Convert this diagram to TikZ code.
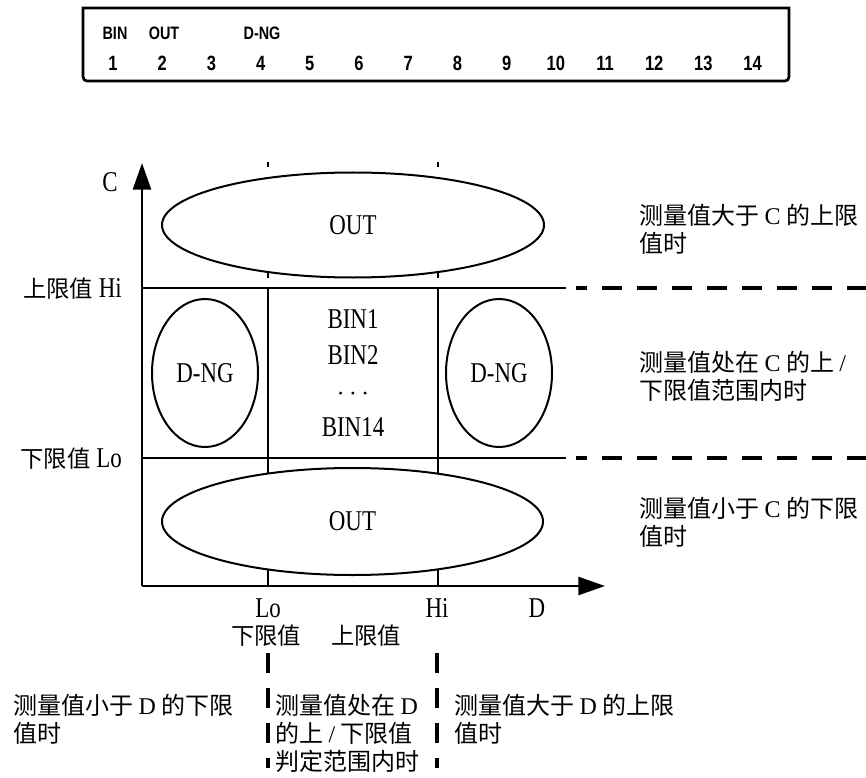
\documentclass[tikz,border=0pt]{standalone}
\usepackage{fontspec}
\setmainfont{Liberation Serif}
\newfontfamily\cjk{Noto Sans CJK SC}
\newfontfamily\lblfont[FakeStretch=0.8]{Liberation Serif}
\newfontfamily\pinfont[FakeStretch=0.8]{Liberation Sans}
\usetikzlibrary{arrows.meta, shapes.geometric}

\tikzset{
  thinline/.style={line width=1.6pt},
  axis/.style={line width=2pt, -{Triangle[length=20pt, width=13.5pt]}},
  limdash/.style={line width=2.8pt, dash pattern=on 15pt off 11.25pt},
  region/.style={ellipse, draw, fill=white, line width=1.5pt, inner sep=0pt,
                 font=\lblfont\fontsize{21.5}{25}\selectfont},
  lbl/.style={inner sep=0pt, font=\lblfont\fontsize{21.5}{25}\selectfont},
  cn/.style={inner sep=0pt, font=\cjk\fontsize{17.5}{20}\selectfont},
  note/.style={inner sep=0pt, align=left, anchor=west,
               font=\cjk\fontsize{18}{21}\selectfont},
  pinlbl/.style={inner sep=0pt, font=\pinfont\bfseries\fontsize{13.5}{15}\selectfont},
  pinnum/.style={inner sep=0pt, font=\pinfont\bfseries\fontsize{15.5}{17}\selectfont}
}

\begin{document}
\begin{tikzpicture}[x=0.75pt, y=-0.75pt]
  \useasboundingbox (0,0) rectangle (866,777);

  % pin panel
  \draw[line width=2pt] (83,8) -- (789,8) -- (789,70) [rounded corners=3pt]
    -- (789,81) -- (83,81) -- (83,70) [sharp corners] -- cycle;
  \foreach \i in {1,...,14}
    \node[pinnum] (pin\i) at ({113+(\i-1)*49.2},63) {\i};
  \node[pinlbl] (pinbin) at (115,33) {BIN};
  \node[pinlbl] (pinout) at (164,33) {OUT};
  \node[pinlbl] (pinng) at (262,33) {D-NG};

  % axes
  \coordinate (orig) at (142,586);
  \coordinate (ctop) at (142,163);
  \coordinate (dend) at (605,586);
  \draw[axis] (orig) -- (ctop);
  \draw[axis] (orig) -- (dend);

  % limit lines
  \coordinate (hiA) at (142,288); \coordinate (hiB) at (566,288);
  \coordinate (hiC) at (576,288); \coordinate (hiD) at (866,288);
  \coordinate (loA) at (142,458); \coordinate (loB) at (566,458);
  \coordinate (loC) at (576,458); \coordinate (loD) at (866,458);
  \draw[thinline] (hiA) -- (hiB);
  \draw[thinline] (loA) -- (loB);
  \draw[limdash, dash phase=6.75pt] (hiC) -- (hiD);
  \draw[limdash, dash phase=6.75pt] (loC) -- (loD);

  \coordinate (dloT) at (268,288); \coordinate (dloB) at (268,586);
  \coordinate (dhiT) at (438,288); \coordinate (dhiB) at (438,586);
  \draw[thinline] (dloT) -- (dloB);
  \draw[thinline] (dhiT) -- (dhiB);
  \foreach \x in {268,438} {
    \draw[thinline] (\x,162) -- (\x,167);
    \draw[thinline] (\x,273) -- (\x,278);
  }

  % regions
  \node[region, minimum width=286.5pt, minimum height=78.75pt] (outtop) at (353,225) {OUT};
  \node[region, minimum width=285.75pt, minimum height=80.25pt] (outbot) at (352.5,521.5) {OUT};
  \node[region, minimum width=79.5pt, minimum height=111pt] (ngleft) at (205,373) {D-NG};
  \node[region, minimum width=79.5pt, minimum height=111pt] (ngright) at (499,373) {D-NG};
  \node[lbl, align=center, font=\lblfont\fontsize{21.5}{27}\selectfont] (bins) at (353,373)
    {BIN1\\BIN2\\$\cdots$\\BIN14};

  % axis labels
  \node[lbl, anchor=base] (clbl) at (110,192) {C};
  \node[lbl, anchor=base east] (hilbl) at (122,297) {{\cjk\fontsize{17.5}{20}\selectfont 上限值}\ Hi};
  \node[lbl, anchor=base east] (lolbl) at (122,467) {{\cjk\fontsize{17.5}{20}\selectfont 下限值}\ Lo};
  \node[lbl, anchor=base] (dlolbl) at (268,617) {Lo};
  \node[lbl, anchor=base] (dhilbl) at (437,617) {Hi};
  \node[lbl, anchor=base] (dlbl) at (537,617) {D};
  \node[cn] (dlotxt) at (266,636) {下限值};
  \node[cn] (dhitxt) at (366,636) {上限值};

  % guides below the D axis
  \draw[limdash, line width=2.6pt] (268,653) -- (268,768);
  \draw[limdash, line width=2.6pt] (437,653) -- (437,768);

  % notes
  \node[note] (cabove) at (639,229) {测量值大于 {\rmfamily C} 的上限\\值时};
  \node[note] (cwithin) at (639,376) {测量值处在 {\rmfamily C} 的上 {\rmfamily /}\\下限值范围内时};
  \node[note] (cbelow) at (639,522) {测量值小于 {\rmfamily C} 的下限\\值时};
  \node[note] (dbelow) at (13,719) {测量值小于 {\rmfamily D} 的下限\\值时};
  \node[note] (dwithin) at (275,733) {测量值处在 {\rmfamily D}\\的上 {\rmfamily /} 下限值\\判定范围内时};
  \node[note] (dabove) at (454,719) {测量值大于 {\rmfamily D} 的上限\\值时};
\end{tikzpicture}
\end{document}
